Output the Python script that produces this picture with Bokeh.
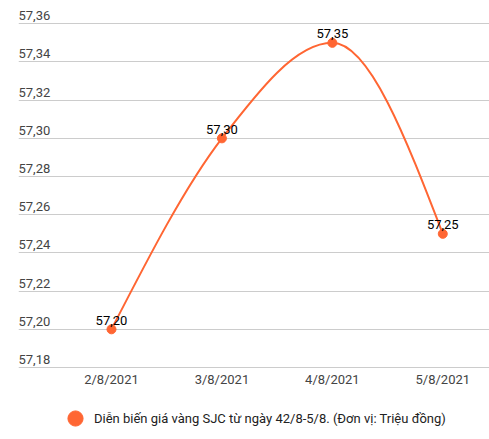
from bokeh.plotting import figure
from bokeh.models import ColumnDataSource, FixedTicker, Legend, LegendItem, Range1d
from bokeh.core.properties import value
from bokeh.embed import file_html
from bokeh.resources import INLINE

dates = ["2/8/2021", "3/8/2021", "4/8/2021", "5/8/2021"]
prices = [57.20, 57.30, 57.35, 57.25]
price_labels = ["57,20", "57,30", "57,35", "57,25"]
y_ticks = [57.18, 57.20, 57.22, 57.24, 57.26, 57.28, 57.30, 57.32, 57.34, 57.36]
y_tick_labels = ["57,18", "57,20", "57,22", "57,24", "57,26", "57,28", "57,30", "57,32", "57,34", "57,36"]
series_name = "Diễn biến giá vàng SJC từ ngày 42/8-5/8. (Đơn vị: Triệu đồng)"

ORANGE = "#ff6633"
FONT = "Roboto"

xs = list(range(len(dates)))

# the frame runs down to the bottom so the legend can sit under the date labels
p = figure(
    frame_width=471, frame_height=431,
    x_range=Range1d(-0.842, 3.423), y_range=Range1d(57.1423, 57.368),
    output_backend="svg", toolbar_location=None,
    min_border_left=18, min_border_right=0, min_border_top=8, min_border_bottom=0,
)
p.outline_line_color = None
p.background_fill_color = "white"
p.xaxis.visible = False
p.yaxis.visible = False

p.xgrid.visible = False
p.ygrid.ticker = FixedTicker(ticks=y_ticks)
p.ygrid.grid_line_color = "#cccccc"
p.ygrid.grid_line_width = 1

# y tick labels sitting above the gridlines
p.text(x=[p.x_range.start] * len(y_ticks), y=y_ticks, text=y_tick_labels,
       text_font=value(FONT), text_font_size="13px", text_color="#444444",
       text_align="left", text_baseline="alphabetic", y_offset=-8)

# date labels under the lowest gridline
p.text(x=xs, y=[y_ticks[0]] * len(xs), text=dates,
       text_font=value(FONT), text_font_size="13px", text_color="#444444",
       text_align="center", text_baseline="middle", y_offset=12)

# smooth curve through the points: flat at turning points, natural ends
n = len(prices)
slopes = [0.0] * n
for i in range(1, n - 1):
    a = prices[i] - prices[i - 1]
    b = prices[i + 1] - prices[i]
    slopes[i] = 0.0 if a * b <= 0 else (prices[i + 1] - prices[i - 1]) / 2
slopes[0] = (3 * (prices[1] - prices[0]) - slopes[1]) / 2
slopes[-1] = (3 * (prices[-1] - prices[-2]) - slopes[-2]) / 2

curve = ColumnDataSource(dict(
    x0=xs[:-1], y0=prices[:-1], x1=xs[1:], y1=prices[1:],
    cx0=[x + 1 / 3 for x in xs[:-1]],
    cy0=[y + m / 3 for y, m in zip(prices[:-1], slopes[:-1])],
    cx1=[x - 1 / 3 for x in xs[1:]],
    cy1=[y - m / 3 for y, m in zip(prices[1:], slopes[1:])],
))
p.bezier(x0="x0", y0="y0", x1="x1", y1="y1", cx0="cx0", cy0="cy0", cx1="cx1", cy1="cy1",
         source=curve, line_color=ORANGE, line_width=2)

pts = p.scatter(xs, prices, size=9, fill_color=ORANGE, line_color=ORANGE)

p.text(x=xs, y=prices, text=price_labels, text_font=value(FONT), text_font_size="13px",
       text_color="black", text_align="center", text_baseline="alphabetic", y_offset=-9)

legend = Legend(items=[LegendItem(label=series_name, renderers=[pts])],
                location=(38, 2), orientation="horizontal",
                glyph_width=38, glyph_height=38, label_standoff=0,
                label_text_font=FONT, label_text_font_size="13px", label_text_color="#222222",
                border_line_color=None, background_fill_alpha=0, padding=0, margin=0, spacing=0)
p.add_layout(legend, "center")

open("out.html", "w").write(file_html(p, INLINE))
